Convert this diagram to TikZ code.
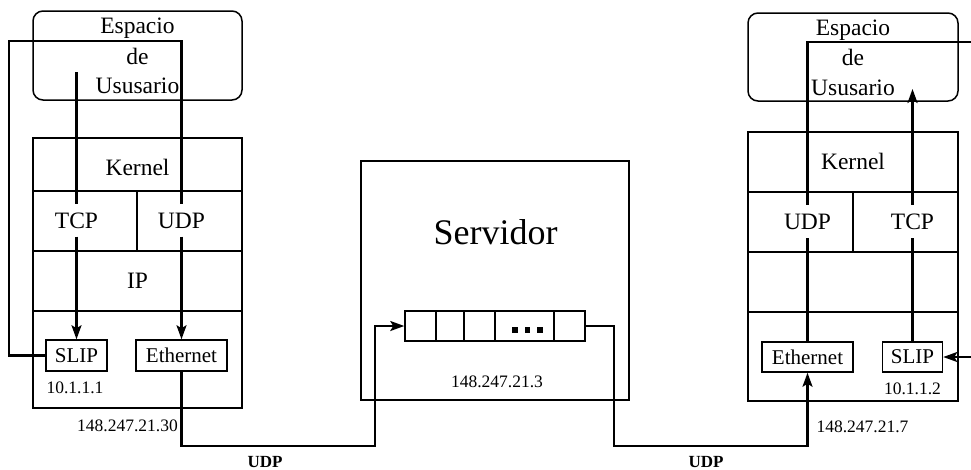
\documentclass[tikz,border=0pt]{standalone}
\usepackage{fontspec}
\setmainfont{Liberation Serif}
\usetikzlibrary{arrows.meta}
\begin{document}
\begin{tikzpicture}[x=1pt,y=-1pt,
  box/.style={draw, line width=1.5pt, inner sep=0pt, rectangle},
  ubox/.style={box, rounded corners=10pt},
  lbl/.style={font=\fontsize{23.5}{28}\selectfont, inner sep=0pt, anchor=base},
  proto/.style={font=\fontsize{23.5}{28}\selectfont, anchor=base, text height=15.5pt, text depth=0pt, inner xsep=0pt, inner ysep=8.5pt},
  addr/.style={font=\fontsize{17.5}{20}\selectfont, inner sep=0pt, anchor=base},
  dev/.style={box, font=\fontsize{21}{24}\selectfont},
  cell/.style={box, minimum height=30pt},
  dot/.style={fill, minimum size=5.5pt, inner sep=0pt},
  conn/.style={line width=2.2pt},
  arr/.style={conn, -{Stealth[length=14pt,width=10pt,inset=3pt]}},
]
\useasboundingbox (0,0) rectangle (971,469);

% ---------------- left host ----------------
\node[ubox, minimum width=209pt, minimum height=89pt] (usrL) at (137.5,55.5) {};
\node[lbl] (espL) at (137.5,33) {Espacio};
\node[lbl] (deL) at (137.5,64) {de};
\node[lbl] (ususL) at (137.5,93) {Ususario};

\node[box, minimum width=209pt, minimum height=53pt] (kerBL) at (137.5,164.5) {};
\node[box, minimum width=104pt, minimum height=60pt] (tcpBL) at (85,221) {};
\node[box, minimum width=105pt, minimum height=60pt] (udpBL) at (189.5,221) {};
\node[box, minimum width=209pt, minimum height=60pt] (ipBL) at (137.5,281) {};
\node[box, minimum width=209pt, minimum height=97pt] (botL) at (137.5,359.5) {};

\node[lbl] (kerL) at (137.5,175) {Kernel};
\node[proto] (tcpL) at (76.5,228) {TCP};
\node[proto] (udpL) at (181.5,228) {UDP};
\node[lbl] (ipL) at (137.5,288) {IP};

\node[dev, minimum width=61pt, minimum height=31pt] (slipL) at (76.5,355.5) {SLIP};
\node[dev, minimum width=91pt, minimum height=31pt] (ethL) at (181.5,355.5) {Ethernet};
\node[addr] (ipSlipL) at (75,393) {10.1.1.1};
\node[addr] (ipEthL) at (127.5,431) {148.247.21.30};

\coordinate (tStartL) at (76.5,72);
\coordinate (loopL1) at (9,355.5);
\coordinate (loopL2) at (9,41);
\coordinate (loopL3) at (181.5,41);

\draw[conn] (tStartL) -- (tcpL.north);
\draw[arr] (tcpL.south) -- (slipL.north);
\draw[conn] (slipL.west) -- (loopL1) -- (loopL2) -- (loopL3) -- (udpL.north);
\draw[arr] (udpL.south) -- (ethL.north);

% ---------------- server ----------------
\node[box, minimum width=268pt, minimum height=239pt] (srv) at (495,280.5) {};
\node[font=\fontsize{36}{40}\selectfont, inner sep=0pt, anchor=base] (srvL) at (495.5,244) {Servidor};
\node[cell, minimum width=31pt] (c1) at (420.5,326) {};
\node[cell, minimum width=28pt] (c2) at (450,326) {};
\node[cell, minimum width=31pt] (c3) at (479.5,326) {};
\node[cell, minimum width=59pt] (c4) at (524.5,326) {};
\node[cell, minimum width=31pt] (c5) at (569.5,326) {};
\node[dot] (d1) at (515,330) {};
\node[dot] (d2) at (527.5,330) {};
\node[dot] (d3) at (540,330) {};
\node[addr] (ipSrv) at (497,387) {148.247.21.3};

% ---------------- right host ----------------
\node[ubox, minimum width=210pt, minimum height=88pt] (usrR) at (853,57) {};
\node[lbl] (espR) at (853,35) {Espacio};
\node[lbl] (deR) at (853,65) {de};
\node[lbl] (ususR) at (853,95) {Ususario};

\node[box, minimum width=210pt, minimum height=60pt] (kerBR) at (853,162) {};
\node[box, minimum width=105pt, minimum height=60pt] (udpBR) at (800.5,222) {};
\node[box, minimum width=105pt, minimum height=60pt] (tcpBR) at (905.5,222) {};
\node[box, minimum width=210pt, minimum height=60pt] (ipBR) at (853,282) {};
\node[box, minimum width=210pt, minimum height=89pt] (botR) at (853,356.5) {};

\node[lbl] (kerR) at (853,169) {Kernel};
\node[proto] (udpR) at (807.5,229) {UDP};
\node[proto] (tcpR) at (912.5,229) {TCP};

\node[dev, minimum width=91pt, minimum height=30pt] (ethR) at (807.5,357) {Ethernet};
\node[dev, minimum width=60pt, minimum height=30pt] (slipR) at (912.5,357) {SLIP};
\node[addr] (ipSlipR) at (912.5,394) {10.1.1.2};
\node[addr] (ipEthR) at (862.5,432) {148.247.21.7};

\coordinate (tEndR) at (912.5,89);
\coordinate (loopR1) at (807.5,42);
\coordinate (edgeR1) at (971,42);
\coordinate (edgeR2) at (971,357);

\draw[conn] (ethR.north) -- (udpR.south);
\draw[conn] (udpR.north) -- (loopR1) -- (edgeR1);
\draw[conn] (slipR.north) -- (tcpR.south);
\draw[arr] (tcpR.north) -- (tEndR);
\draw[arr] (edgeR2) -- (slipR.east);

% ---------------- network links ----------------
\coordinate (nL1) at (181.5,446);
\coordinate (nL2) at (375,446);
\coordinate (nL3) at (375,326);
\draw[arr] (ethL.south) -- (nL1) -- (nL2) -- (nL3) -- (c1.west);

\coordinate (nR1) at (614,326);
\coordinate (nR2) at (614,446);
\coordinate (nR3) at (807.5,446);
\draw[arr] (c5.east) -- (nR1) -- (nR2) -- (nR3) -- (ethR.south);

\node[font=\bfseries\fontsize{17}{20}\selectfont, inner sep=0pt, anchor=base] (udpLinkL) at (265,467) {UDP};
\node[font=\bfseries\fontsize{17}{20}\selectfont, inner sep=0pt, anchor=base] (udpLinkR) at (706,467) {UDP};
\end{tikzpicture}
\end{document}
